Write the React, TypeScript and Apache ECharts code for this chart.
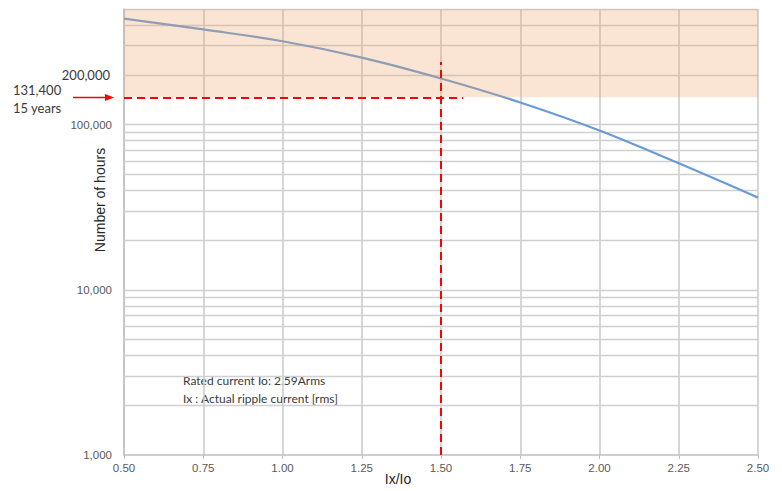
import React, { useEffect, useRef } from "react";
import * as echarts from "echarts";

// ---- data ----
const xValues = [0.5, 0.75, 1.0, 1.25, 1.5, 1.75, 2.0, 2.25, 2.5];
const hours = [437000, 376000, 319000, 254000, 190000, 136000, 92000, 58200, 36100];

const xTickInterval = 0.25;
const xMin = 0.5;
const xMax = 2.5;
const yMin = 1000;
const yMax = 500000;

// horizontal grid lines (log minor / major grid)
const gridLineValues = [
  2000, 3000, 4000, 5000, 6000, 7000, 8000, 9000,
  10000, 20000, 30000, 40000, 50000, 60000, 70000, 80000, 90000,
  100000, 300000, 400000, 500000,
];
const labelledGridValue = 200000;
const labelledGridText = "200,000";

// threshold (as drawn) and marker lines
const thresholdHours = 146000; // drawn position of the "131,400 / 15 years" line
const thresholdXEnd = 1.57;
const markerX = 1.5;
const markerYTop = 239000;

const thresholdLabel = ["131,400", "15 years"];
const noteLines = ["Rated current Io: 2.59Arms", "Ix : Actual ripple current [rms]"];
const xAxisTitle = "Ix/Io";
const yAxisTitle = "Number of hours";

const tickFont = "'Liberation Sans', Arial, sans-serif";
const noteFont = "Lato, 'Open Sans', sans-serif";

export default function App() {
  const ref = useRef<HTMLDivElement>(null);

  useEffect(() => {
    if (!ref.current) return;
    const chart = echarts.init(ref.current, undefined, { renderer: "svg" });

    const option: any = {
      animation: false,
      backgroundColor: "#ffffff",
      grid: { left: 124, right: 24, top: 9, bottom: 36 },
      xAxis: {
        type: "value",
        min: xMin,
        max: xMax,
        interval: xTickInterval,
        axisLine: { show: true, lineStyle: { color: "#bfbfbf", width: 1.5 } },
        axisTick: { show: true, length: 4, lineStyle: { color: "#bfbfbf" } },
        axisLabel: {
          formatter: (v: number) => v.toFixed(2),
          color: "#595959",
          fontSize: 11.5,
          fontFamily: tickFont,
          margin: 7,
        },
        splitLine: { show: true, lineStyle: { color: "#cccccc", width: 1.6 } },
      },
      yAxis: {
        type: "log",
        logBase: 10,
        min: yMin,
        max: yMax,
        axisLine: { show: true, lineStyle: { color: "#bfbfbf", width: 1.5 } },
        axisTick: { show: false },
        axisLabel: {
          formatter: (v: number) => {
            const l = Math.log10(v);
            if (Math.abs(l - Math.round(l)) < 1e-6) {
              return Math.round(v).toLocaleString("en-US");
            }
            return "";
          },
          color: "#595959",
          fontSize: 11.5,
          fontFamily: tickFont,
          margin: 12,
        },
        splitLine: { show: false },
      },
      series: [
        {
          type: "line",
          data: [],
          z: 1,
          silent: true,
          markLine: {
            z: 1,
            silent: true,
            symbol: ["none", "none"],
            label: { show: false },
            lineStyle: { color: "#d0d0d0", width: 1.4, type: "solid" },
            data: [
              ...gridLineValues.map((v) => ({ yAxis: v })),
              {
                yAxis: labelledGridValue,
                label: {
                  show: true,
                  position: "start",
                  distance: 14,
                  formatter: labelledGridText,
                  color: "#3a3a3a",
                  fontSize: 13,
                  fontFamily: noteFont,
                },
              },
            ],
          },
        },
        {
          type: "line",
          data: xValues.map((x, i) => [x, hours[i]]),
          smooth: 0.4,
          symbol: "none",
          z: 2,
          lineStyle: { color: "#6b9bd4", width: 2.2 },
        },
        {
          type: "line",
          data: [],
          z: 3,
          silent: true,
          markArea: {
            z: 3,
            silent: true,
            itemStyle: { color: "rgba(237,160,100,0.28)" },
            data: [[{ yAxis: thresholdHours }, { yAxis: yMax }]],
          },
        },
        {
          type: "line",
          data: [],
          z: 4,
          silent: true,
          markLine: {
            z: 10,
            silent: true,
            symbol: ["none", "none"],
            label: { show: false },
            lineStyle: { color: "#ff0000", width: 2, type: [8, 5] },
            data: [
              [{ coord: [xMin, thresholdHours] }, { coord: [thresholdXEnd, thresholdHours] }],
              [{ coord: [markerX, yMin] }, { coord: [markerX, markerYTop] }],
            ],
          },
        },
      ],
      graphic: [
        {
          type: "text",
          left: 13,
          top: 81,
          style: {
            text: thresholdLabel.join("\n"),
            fill: "#3a3a3a",
            font: `13px ${noteFont}`,
            lineHeight: 18,
          },
        },
        {
          type: "line",
          shape: { x1: 73, y1: 97.5, x2: 107, y2: 97.5 },
          style: { stroke: "#ff0000", lineWidth: 1.5 },
        },
        {
          type: "polygon",
          shape: { points: [[105, 94], [114, 97.5], [105, 101]] },
          style: { fill: "#ff0000" },
        },
        {
          type: "text",
          left: 183,
          top: 371,
          style: {
            text: noteLines.join("\n"),
            fill: "#3a3a3a",
            font: `12px ${noteFont}`,
            lineHeight: 18,
          },
        },
        {
          type: "text",
          x: 398,
          y: 479,
          style: {
            text: xAxisTitle,
            fill: "#262626",
            font: `14px ${tickFont}`,
            align: "center",
            verticalAlign: "middle",
          },
        },
        {
          type: "text",
          x: 100,
          y: 200,
          rotation: Math.PI / 2,
          style: {
            text: yAxisTitle,
            fill: "#262626",
            font: `14px ${tickFont}`,
            align: "center",
            verticalAlign: "middle",
          },
        },
      ],
    };

    chart.setOption(option);
    return () => chart.dispose();
  }, []);

  return (
    <div
      ref={ref}
      style={{ position: "fixed", left: 0, top: 0, width: 782, height: 491, background: "#fff" }}
    />
  );
}
